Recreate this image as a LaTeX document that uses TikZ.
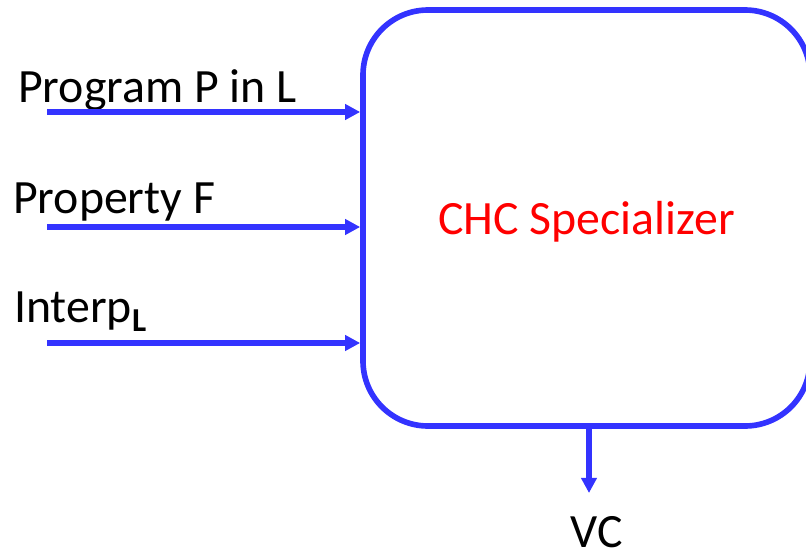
\documentclass[tikz,border=0pt]{standalone}
\usepackage{fontspec}
\setmainfont{Carlito}
\usetikzlibrary{arrows.meta,positioning,calc}
\definecolor{specblue}{HTML}{3333FF}
\definecolor{specred}{HTML}{FF0000}
\definecolor{textblack}{HTML}{000000}
\tikzset{
  specbox/.style={rectangle, draw=specblue, fill=none, rounded corners=1.625cm, minimum width=11.175cm, minimum height=10.4cm, line width=4pt, align=center, text=specred, text depth=0pt, font=\fontsize{34}{40}\selectfont},
  signal/.style={-{Triangle[length=10.7pt,width=10.7pt]}, draw=specblue, line width=3.6pt},
  inlabel/.style={anchor=base west, inner sep=0pt, text=textblack, font=\fontsize{34}{40}\selectfont}
}
\begin{document}
\begin{tikzpicture}
  \useasboundingbox (0,0) rectangle (20.15,-13.825);
  \clip (0,0) rectangle (20.15,-13.825);

  \node[specbox] (spec) at (14.6625,-5.45) {CHC Specializer};

  \node[inlabel] (prog) at (0.45,-2.55) {Program P in L};
  \node[inlabel] (prop) at (0.325,-5.325) {Property F};
  \node[inlabel] (interp) at (0.35,-8.05) {Interp\textsubscript{\textbf{L}}};

  \coordinate (progIn) at (1.175,-2.8);
  \coordinate (propIn) at (1.175,-5.675);
  \coordinate (interpIn) at (1.175,-8.575);
  \draw[signal] (progIn) -- (progIn -| spec.west);
  \draw[signal] (propIn) -- (propIn -| spec.west);
  \draw[signal] (interpIn) -- (interpIn -| spec.west);

  \coordinate (vcTip) at (14.725,-12.325);
  \draw[signal] (spec.south -| vcTip) -- (vcTip);
  \node[inlabel, anchor=base] (vc) at (14.91,-13.68) {VC};
\end{tikzpicture}
\end{document}
